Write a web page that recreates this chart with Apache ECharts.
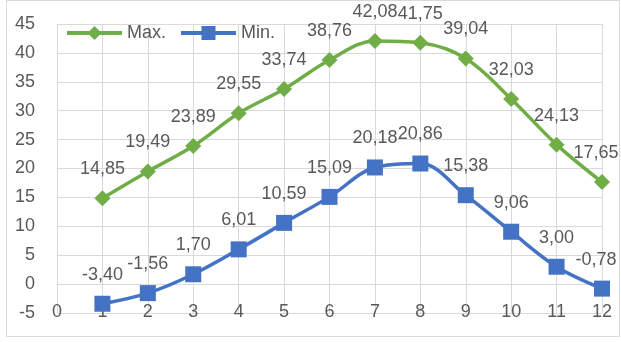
<!DOCTYPE html>
<html>
<head>
<meta charset="utf-8">
<script src="https://cdn.jsdelivr.net/npm/echarts@6/dist/echarts.min.js"></script>
<style>
  html, body { margin: 0; padding: 0; background: #fff; }
  #chart { width: 621px; height: 342px; }
</style>
</head>
<body>
<div id="chart"></div>
<script>
// Monthly temperature extremes
const months = [1, 2, 3, 4, 5, 6, 7, 8, 9, 10, 11, 12];
const maxTemps = [14.85, 19.49, 23.89, 29.55, 33.74, 38.76, 42.08, 41.75, 39.04, 32.03, 24.13, 17.65];
const minTemps = [-3.40, -1.56, 1.70, 6.01, 10.59, 15.09, 20.18, 20.86, 15.38, 9.06, 3.00, -0.78];
const seriesNames = ['Max.', 'Min.'];

const GREEN = '#70AD47';
const BLUE = '#4472C4';
const TEXT = '#595959';
const GRID = '#D9D9D9';
const FONT = '"Liberation Sans", Arial, sans-serif';

// Legend icons: a thick stroke with the series marker in its middle (55 x 16 box)
const BAR = 'M0,6 L55,6 L55,10 L0,10 Z ';
const ICON_DIAMOND = 'path://' + BAR + 'M27.5,1 L34.5,8 L27.5,15 L20.5,8 Z M0,0 L0.01,0 Z M0,16 L0.01,16 Z';
const ICON_SQUARE = 'path://' + BAR + 'M20.5,1 L34.5,1 L34.5,15 L20.5,15 Z M0,0 L0.01,0 Z M0,16 L0.01,16 Z';

// Points as [month, value]; the last label is nudged left so it stays on the canvas
const pairs = vals => months.map((m, i) => {
  const item = { value: [m, vals[i]] };
  if (i === months.length - 1) item.label = { offset: [-6, 0] };
  return item;
});
const fmt = p => p.value[1].toFixed(2).replace('.', ',');

const labelStyle = {
  show: true,
  position: 'top',
  distance: 12,
  color: TEXT,
  fontSize: 18,
  fontFamily: FONT,
  formatter: fmt
};

const chart = echarts.init(document.getElementById('chart'), null, { renderer: 'canvas' });

chart.setOption({
  animation: false,
  backgroundColor: '#fff',
  textStyle: { fontFamily: FONT },
  graphic: [{
    type: 'rect',
    shape: { x: 6.5, y: 0.5, width: 613, height: 336 },
    style: { fill: 'none', stroke: GRID, lineWidth: 1 },
    silent: true,
    z: -10
  }],
  legend: {
    left: 62,
    top: 19,
    itemWidth: 55,
    itemHeight: 16,
    itemGap: 15,
    textStyle: { color: TEXT, fontSize: 18, fontFamily: FONT },
    data: [
      { name: seriesNames[0], icon: ICON_DIAMOND, itemStyle: { color: GREEN } },
      { name: seriesNames[1], icon: ICON_SQUARE, itemStyle: { color: BLUE } }
    ]
  },
  grid: { left: 57, right: 19, top: 24, bottom: 29, containLabel: false },
  xAxis: {
    type: 'value',
    min: 0,
    max: 12,
    interval: 1,
    axisLine: { show: true, lineStyle: { color: GRID } },
    axisTick: { show: false },
    splitLine: { show: true, lineStyle: { color: GRID, width: 1 } },
    axisLabel: { color: TEXT, fontSize: 18, fontFamily: FONT, margin: -1, verticalAlign: 'middle' }
  },
  yAxis: {
    type: 'value',
    min: -5,
    max: 45,
    interval: 5,
    axisLine: { show: false },
    axisTick: { show: false },
    splitLine: { show: true, lineStyle: { color: GRID, width: 1 } },
    axisLabel: { color: TEXT, fontSize: 18, fontFamily: FONT, margin: 22 }
  },
  series: [
    {
      name: seriesNames[0],
      type: 'line',
      data: pairs(maxTemps),
      smooth: 0.35,
      symbol: 'diamond',
      symbolSize: 16,
      itemStyle: { color: GREEN },
      lineStyle: { color: GREEN, width: 3.5 },
      label: labelStyle,
      z: 3
    },
    {
      name: seriesNames[1],
      type: 'line',
      data: pairs(minTemps),
      smooth: 0.35,
      symbol: 'rect',
      symbolSize: 16,
      itemStyle: { color: BLUE },
      lineStyle: { color: BLUE, width: 3.5 },
      label: labelStyle,
      z: 4
    }
  ]
});
</script>
</body>
</html>
